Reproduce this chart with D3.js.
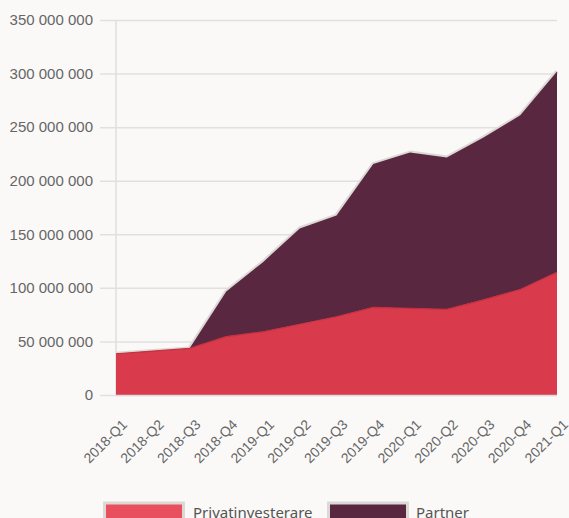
<!DOCTYPE html>
<html><head><meta charset="utf-8">
<script src="https://cdn.jsdelivr.net/npm/d3@7"></script>
<style>
html,body{margin:0;padding:0;background:#faf9f8;}
svg{display:block;font-family:"Noto Sans",sans-serif;}
</style></head>
<body><svg id="c" width="569" height="518"></svg>
<script>
const quarters = ["2018-Q1","2018-Q2","2018-Q3","2018-Q4","2019-Q1","2019-Q2","2019-Q3","2019-Q4","2020-Q1","2020-Q2","2020-Q3","2020-Q4","2021-Q1"];
const privatinvesterare = [38.5e6,41e6,43.5e6,54.5e6,59e6,66e6,73e6,81.8e6,80.8e6,80e6,88.8e6,98.5e6,114.5e6];
const partner = [0,0,0,42e6,65e6,89.5e6,94.5e6,133.7e6,145.5e6,141.7e6,151.5e6,162.5e6,187.5e6];
const seriesNames = ["Privatinvesterare","Partner"];
const yTicks = [0,50e6,100e6,150e6,200e6,250e6,300e6,350e6];

const svg = d3.select("#c");
const m = {l:116, r:557, t:20, b:395};
const x = d3.scalePoint().domain(quarters).range([m.l, m.r]);
const y = d3.scaleLinear().domain([0,350e6]).range([m.b, m.t]);
const fmt = v => d3.format(",")(v).replace(/,/g, " ");

const gy2 = svg.append("g").attr("transform", "translate(100,0)")
  .call(d3.axisLeft(y).tickValues(yTicks).tickFormat(fmt).tickSize(-(m.r-100)).tickPadding(7));
gy2.select(".domain").remove();
gy2.selectAll(".tick line").attr("stroke","#e2e0df").attr("stroke-width",1.5);
gy2.selectAll(".tick text").attr("fill","#666").attr("font-size",15).attr("x",-7);

svg.append("line").attr("x1",m.l).attr("x2",m.l).attr("y1",m.t).attr("y2",m.b)
  .attr("stroke","#e0dedd").attr("stroke-width",1.5);

const rows = quarters.map((q,i)=>({q, Privatinvesterare: privatinvesterare[i], Partner: partner[i]}));
const stack = d3.stack().keys(seriesNames)(rows);
const colors = {"Privatinvesterare":"#d93a4c","Partner":"#5a2741"};

const area = d3.area().x(d=>x(d.data.q)).y0(d=>y(d[0])).y1(d=>y(d[1]));
const topLine = d3.line().x(d=>x(d.data.q)).y(d=>y(d[1]));

svg.append("path").datum(stack[1]).attr("d", topLine).attr("fill","none")
  .attr("stroke","#dcd8d6").attr("stroke-width",4).attr("stroke-linejoin","round");
stack.slice().reverse().forEach(layer=>{
  svg.append("path").datum(layer).attr("d", area).attr("fill", colors[layer.key]);
});
svg.append("path").datum(stack[0]).attr("d", topLine).attr("fill","none")
  .attr("stroke","#c4303f").attr("stroke-width",1.2);

svg.append("line").attr("x1",m.l).attr("x2",m.r).attr("y1",m.b+0.5).attr("y2",m.b+0.5)
  .attr("stroke","#dcdad9").attr("stroke-width",1.5);

const gx = svg.append("g").attr("transform", `translate(0,${m.b})`)
  .call(d3.axisBottom(x).tickSize(0).tickPadding(0));
gx.select(".domain").remove();
gx.selectAll(".tick text").attr("fill","#666").attr("font-size",14)
  .attr("text-anchor","end").attr("dy","0.35em")
  .attr("transform","translate(8,27) rotate(-45)");

const leg = [{k:"Privatinvesterare", x:103, tx:193, c:"#e8505f"},{k:"Partner", x:327, tx:416, c:"#5a2741"}];
leg.forEach(l=>{
  svg.append("rect").attr("x",l.x+1.5).attr("y",503).attr("width",79).attr("height",22)
    .attr("fill",l.c).attr("stroke","#dcd8d6").attr("stroke-width",3);
  svg.append("text").attr("x",l.tx).attr("y",518).attr("font-size",15).attr("fill","#555").text(l.k);
});
</script></body></html>
